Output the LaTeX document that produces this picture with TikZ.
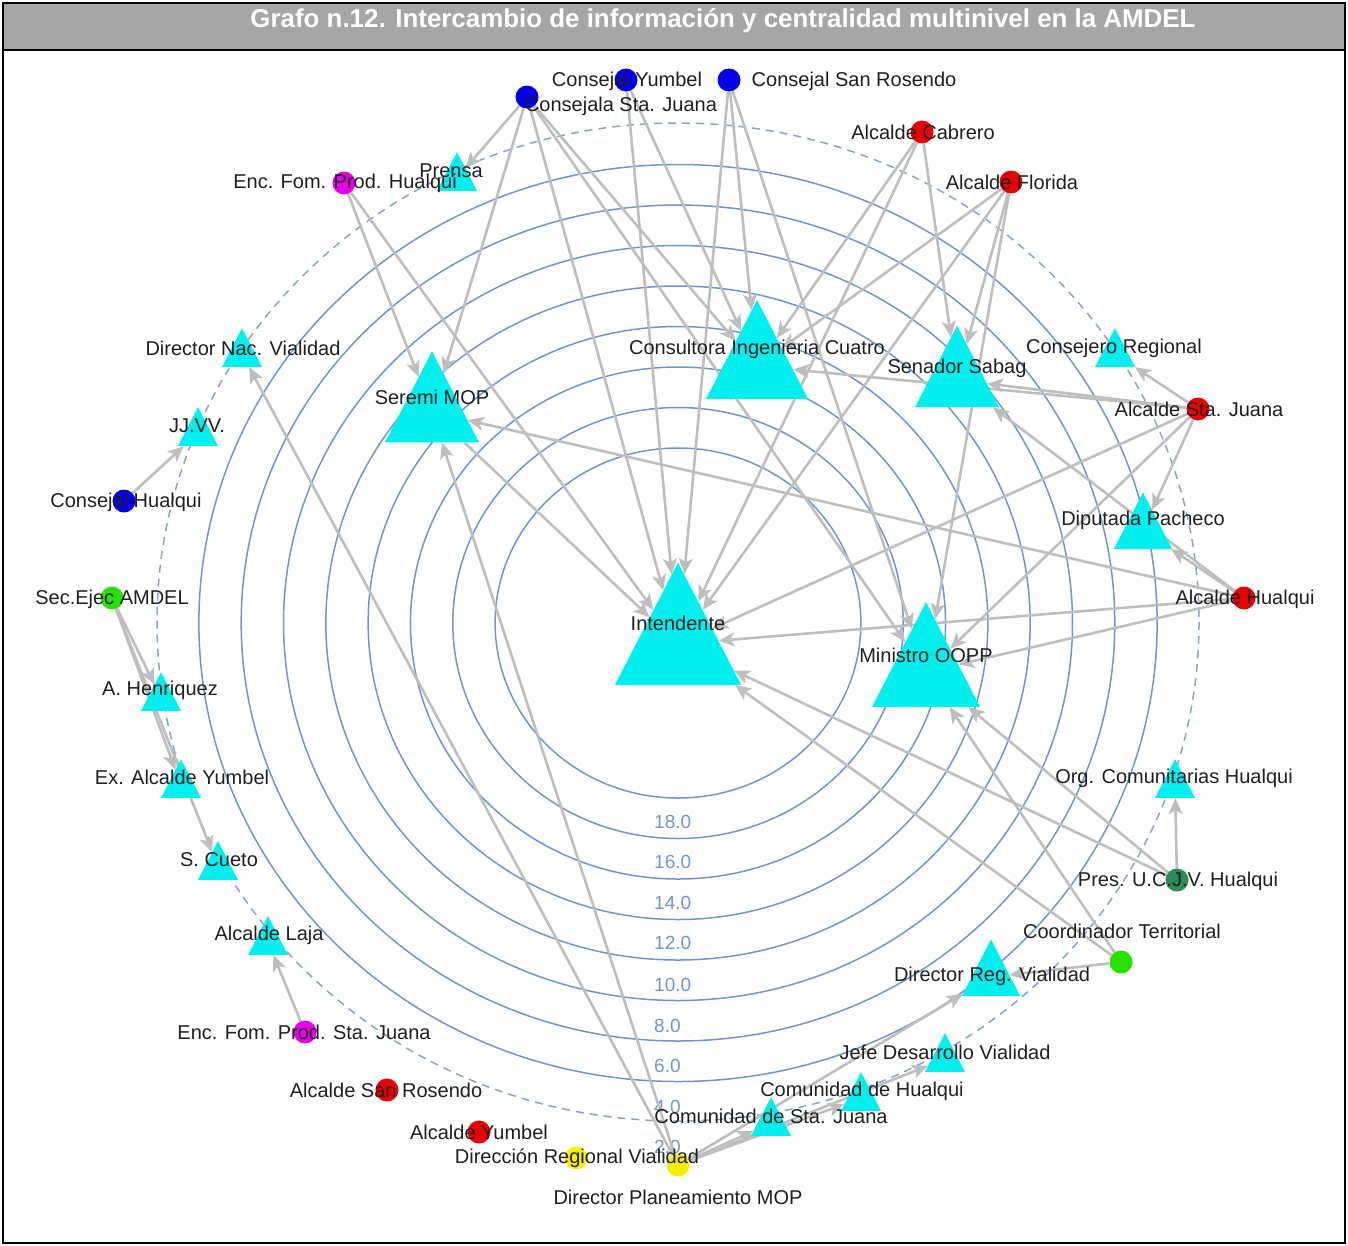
\documentclass[tikz,border=0pt]{standalone}
\usepackage{fontspec}
\setmainfont{Liberation Sans}
\usetikzlibrary{shapes.geometric, arrows.meta}
\pgfdeclarelayer{back}
\pgfdeclarelayer{ties}
\pgfsetlayers{back,ties,main}
\definecolor{ringblue}{RGB}{110,148,212}
\definecolor{dashblue}{RGB}{135,162,205}
\definecolor{tiegray}{RGB}{190,190,190}
\definecolor{trifill}{RGB}{0,240,240}
\definecolor{barfill}{RGB}{166,166,166}
\definecolor{nblue}{RGB}{0,0,235}
\definecolor{nred}{RGB}{235,0,0}
\definecolor{nmag}{RGB}{230,0,230}
\definecolor{ngreen}{RGB}{40,225,0}
\definecolor{nyellow}{RGB}{245,240,0}
\definecolor{ndkgreen}{RGB}{46,139,87}
\tikzset{
  tri/.style={regular polygon, regular polygon sides=3, minimum size=#1, inner sep=0pt, fill=trifill, yscale=1.12, transform shape},
  actor/.style={circle, minimum size=23pt, inner sep=0pt, fill=#1},
  lab/.style={inner sep=0pt, text=black!88, font=\fontsize{20}{24}\selectfont},
  ringlab/.style={inner sep=0pt, anchor=west, text=ringblue, font=\fontsize{19}{22}\selectfont},
  tie/.style={draw=tiegray, line width=2.6pt, -{Stealth[length=16pt,width=14pt,inset=4pt]}}
}

\begin{document}
\begin{tikzpicture}[x=1pt, y=-1pt]
\useasboundingbox (0,0) rectangle (1348,1245);

% frame and title
\fill[barfill] (4,4) rectangle (1344,50);
\draw[line width=1.5pt] (4,50) -- (1344,50);
\draw[line width=2pt] (3,3) rectangle (1345,1243);
\node[inner sep=0pt, text=white, font=\bfseries\fontsize{25.9}{30}\selectfont] (title) at (723,21)
  {Grafo n.12. Intercambio de información y centralidad multinivel en la AMDEL};

% rings
\begin{pgfonlayer}{back}
\foreach \k in {0,...,7}
  \draw[ringblue, line width=1.5pt] (678,623) ellipse [x radius={1.045*(175+40.5*\k)}, y radius={175+40.5*\k}];
\draw[dashblue, line width=1.5pt, dash pattern=on 8pt off 6pt] (678,622) ellipse [x radius=521, y radius=499];
\foreach \v/\y in {18.0/822, 16.0/862, 14.0/903, 12.0/943, 10.0/985, 8.0/1026, 6.0/1066, 4.0/1107, 2.0/1147}
  \node[ringlab] (r\y) at (654,\y) {\v};
\end{pgfonlayer}

% actors
\node[actor=nblue] (csj) at (527,97) {};
\node[actor=nblue] (cy) at (626,80) {};
\node[actor=nblue] (csr) at (729,80) {};
\node[actor=nred] (acab) at (922,132) {};
\node[actor=nred] (aflo) at (1011,182) {};
\node[actor=nmag] (efh) at (344,183) {};
\node[actor=nred] (asj) at (1198,409) {};
\node[actor=nblue] (chu) at (124,501) {};
\node[actor=ngreen] (sec) at (112,598) {};
\node[actor=nred] (ahu) at (1244,598) {};
\node[actor=ndkgreen] (pres) at (1177,880) {};
\node[actor=ngreen] (coord) at (1121,962) {};
\node[actor=nmag] (efsj) at (305,1032) {};
\node[actor=nred] (asr) at (387,1090) {};
\node[actor=nred] (ayu) at (479,1132) {};
\node[actor=nyellow] (drv) at (576,1158) {};
\node[actor=nyellow] (dpm) at (678,1165) {};

\node[tri=145.5] (int) at (678,644) {};
\node[tri=124.7] (mop) at (926,672) {};
\node[tri=117.8] (cic) at (757,366) {};
\node[tri=97] (sen) at (957,380) {};
\node[tri=108.5] (ser) at (432,412) {};
\node[tri=67] (dip) at (1143,530) {};
\node[tri=67] (drg) at (991,977) {};
\node[tri=46.2] (cre) at (1115,354) {};
\node[tri=46.2] (pre) at (457,178) {};
\node[tri=46.2] (dnv) at (242,354) {};
\node[tri=46.2] (jjv) at (198,433) {};
\node[tri=46.2] (ahe) at (161,698) {};
\node[tri=46.2] (eay) at (181,785) {};
\node[tri=46.2] (scu) at (218,867) {};
\node[tri=46.2] (laj) at (268,942) {};
\node[tri=46.2] (org) at (1175,785) {};
\node[tri=46.2] (jde) at (945,1059) {};
\node[tri=46.2] (cho) at (861,1098) {};
\node[tri=46.2] (csju) at (771,1123) {};

% ties
\begin{pgfonlayer}{ties}
\foreach \a/\b in {csj/pre, csj/ser, csj/int, csj/cic, csj/mop, cy/int, cy/cic,
    csr/int, csr/cic, csr/mop, efh/ser, efh/int, acab/cic, acab/sen, acab/int,
    aflo/cic, aflo/int, aflo/sen, aflo/mop, asj/cre, asj/cic, asj/sen, asj/dip,
    asj/int, asj/mop, ahu/dip, ahu/sen, ahu/int, ahu/mop, ahu/ser, chu/jjv,
    sec/ahe, sec/eay, sec/scu, efsj/laj, pres/org, pres/int, pres/mop,
    coord/drg, coord/int, coord/mop, dpm/csju, dpm/cho, dpm/jde, dpm/drg,
    dpm/ser, dpm/dnv, ser/int}
  \draw[tie] (\a) -- (\b);
\end{pgfonlayer}

% labels
\node[lab] (l-cy) at (627,81) {Consejal Yumbel};
\node[lab] (l-csj) at (621,106) {Consejala Sta. Juana};
\node[lab] (l-csr) at (854,81) {Consejal San Rosendo};
\node[lab] (l-acab) at (923,132) {Alcalde Cabrero};
\node[lab] (l-aflo) at (1012,182) {Alcalde Florida};
\node[lab] (l-efh) at (345,183) {Enc. Fom. Prod. Hualqui};
\node[lab] (l-pre) at (451,171) {Prensa};
\node[lab] (l-dnv) at (243,348) {Director Nac. Vialidad};
\node[lab] (l-cic) at (757,349) {Consultora Ingenieria Cuatro};
\node[lab] (l-cre) at (1114,348) {Consejero Regional};
\node[lab] (l-sen) at (957,368) {Senador Sabag};
\node[lab] (l-ser) at (432,397) {Seremi MOP};
\node[lab] (l-asj) at (1199,409) {Alcalde Sta. Juana};
\node[lab] (l-jjv) at (197,426) {JJ.VV.};
\node[lab] (l-chu) at (126,502) {Consejal Hualqui};
\node[lab] (l-dip) at (1143,520) {Diputada Pacheco};
\node[lab] (l-sec) at (112,599) {Sec.Ejec AMDEL};
\node[lab] (l-ahu) at (1245,599) {Alcalde Hualqui};
\node[lab] (l-int) at (678,623) {Intendente};
\node[lab] (l-mop) at (926,655) {Ministro OOPP};
\node[lab] (l-ahe) at (160,690) {A. Henriquez};
\node[lab] (l-eay) at (182,777) {Ex. Alcalde Yumbel};
\node[lab] (l-org) at (1174,778) {Org. Comunitarias Hualqui};
\node[lab] (l-scu) at (219,860) {S. Cueto};
\node[lab] (l-pres) at (1178,881) {Pres. U.C.J.V. Hualqui};
\node[lab] (l-coord) at (1122,931) {Coordinador Territorial};
\node[lab] (l-laj) at (269,935) {Alcalde Laja};
\node[lab] (l-drg) at (992,976) {Director Reg. Vialidad};
\node[lab] (l-efsj) at (304,1032) {Enc. Fom. Prod. Sta. Juana};
\node[lab] (l-jde) at (945,1052) {Jefe Desarrollo Vialidad};
\node[lab] (l-asr) at (386,1090) {Alcalde San Rosendo};
\node[lab] (l-cho) at (862,1091) {Comunidad de Hualqui};
\node[lab] (l-csju) at (771,1116) {Comunidad de Sta. Juana};
\node[lab] (l-ayu) at (479,1132) {Alcalde Yumbel};
\node[lab] (l-drv) at (577,1158) {Dirección Regional Vialidad};
\node[lab] (l-dpm) at (678,1197) {Director Planeamiento MOP};
\end{tikzpicture}
\end{document}
